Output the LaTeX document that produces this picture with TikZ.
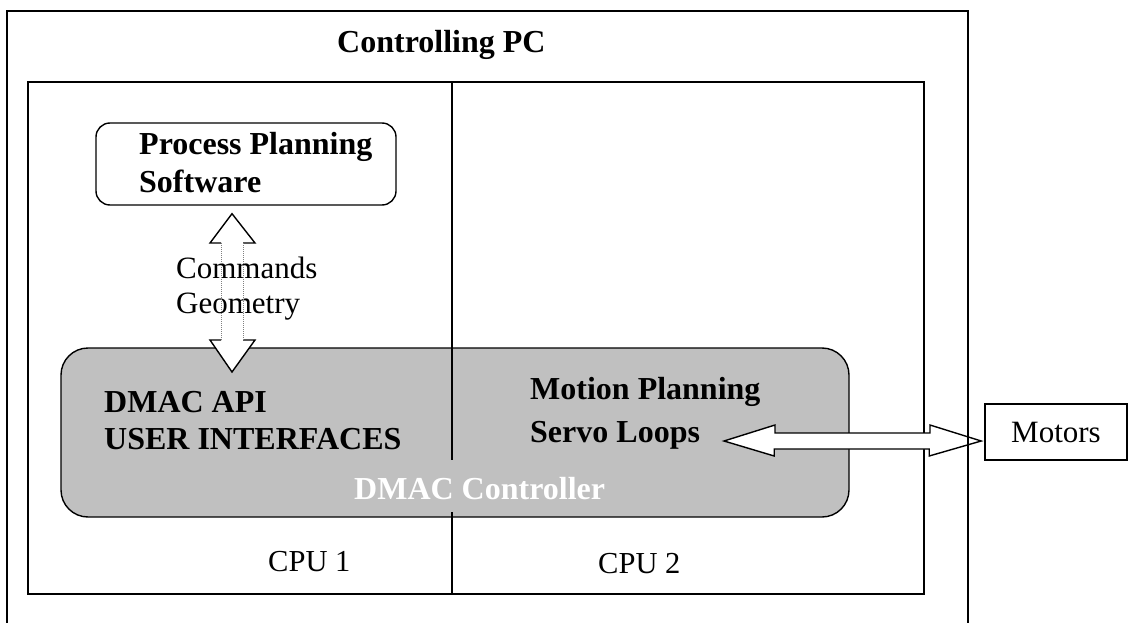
\documentclass[tikz,border=0pt]{standalone}
\usepackage{fontspec}
\setmainfont{Liberation Serif}
\definecolor{boxgray}{RGB}{192,192,192}
\begin{document}
\begin{tikzpicture}[x=1pt,y=-1pt,
  line/.style={line width=1.6pt},
  lbl/.style={anchor=base west, inner sep=0pt},
  bigb/.style={font=\fontsize{32}{37}\selectfont\bfseries},
  big/.style={font=\fontsize{31}{35}\selectfont},
  arrowfill/.style={fill=white, draw=black, line width=1.4pt, line join=miter},
  headline/.style={draw=black, line width=1.4pt, line join=miter},
]
\useasboundingbox (0,0) rectangle (1130,623);

% inner CPU box
\draw[line] (28,82) rectangle (924,594);

% DMAC controller (gray rounded box)
\node[draw, line width=1.4pt, fill=boxgray, rounded corners=27pt, minimum width=788pt, minimum height=169pt, inner sep=0pt] (dmac) at (455,432.5) {};

% divider between CPU 1 and CPU 2
\draw[line] (452,82) -- (452,460);
\draw[line] (452,512) -- (452,594);

% Process planning software box
\node[draw, line width=1.4pt, rounded corners=14pt, minimum width=300pt, minimum height=82pt, inner sep=0pt] (pps) at (246,164) {};

% Motors box
\node[draw, line width=1.6pt, minimum width=142pt, minimum height=56pt, inner sep=0pt, font=\fontsize{31}{35}\selectfont] (motors) at (1056,432) {Motors};

% vertical double block arrow (Process Planning <-> DMAC)
\coordinate (vtop) at ([xshift=-14pt,yshift=-8pt]pps.south);
\coordinate (vbot) at (232,372);
\fill[white] (vtop) -- (255,243) -- (243,243) -- (243,340) -- (255,340) -- (vbot) -- (210,340) -- (221,340) -- (221,243) -- (210,243) -- cycle;
\path[headline] (221,243) -- (210,243) -- (vtop) -- (255,243) -- (243,243);
\path[headline] (221,340) -- (210,340) -- (vbot) -- (255,340) -- (243,340);

% horizontal double block arrow (Servo Loops <-> Motors)
\coordinate (hl) at (724,441);
\coordinate (hr) at ([xshift=-3pt,yshift=-9pt]motors.west);
\draw[arrowfill] (hl) -- ++(51,-16) -- ++(0,8) -- ++(155,0) -- ++(0,-8) -- (hr) -- ++(-52,15) -- ++(0,-7) -- ++(-155,0) -- ++(0,7) -- cycle;

% outer Controlling PC box (open at the bottom)
\draw[line] (7,623) -- (7,11) -- (968,11) -- (968,623);

% texts
\node[lbl, bigb] (title) at (337,53) {Controlling PC};
\node[lbl, bigb] (pps1) at (139,155) {Process Planning};
\node[lbl, bigb] (pps2) at (139,192) {Software};
\node[lbl, big] (cmd1) at (176,278) {Commands};
\node[lbl, big] (cmd2) at (176,313) {Geometry};
\draw[gray, densely dotted, line width=1pt] (221,243) -- (221,340) (243,243) -- (243,340);
\node[lbl, bigb] (api1) at (104,412) {DMAC API};
\node[lbl, bigb] (api2) at (104,449) {USER INTERFACES};
\node[lbl, bigb] (motion1) at (530,399.5) {Motion Planning};
\node[lbl, bigb] (motion2) at (530,442) {Servo Loops};
\node[lbl, bigb, text=white] (dmaclabel) at (354,499) {DMAC Controller};
\node[lbl, font=\fontsize{30.5}{35}\selectfont] (cpu1) at (268,571) {CPU 1};
\node[lbl, font=\fontsize{30.5}{35}\selectfont] (cpu2) at (598,573) {CPU 2};
\end{tikzpicture}
\end{document}
